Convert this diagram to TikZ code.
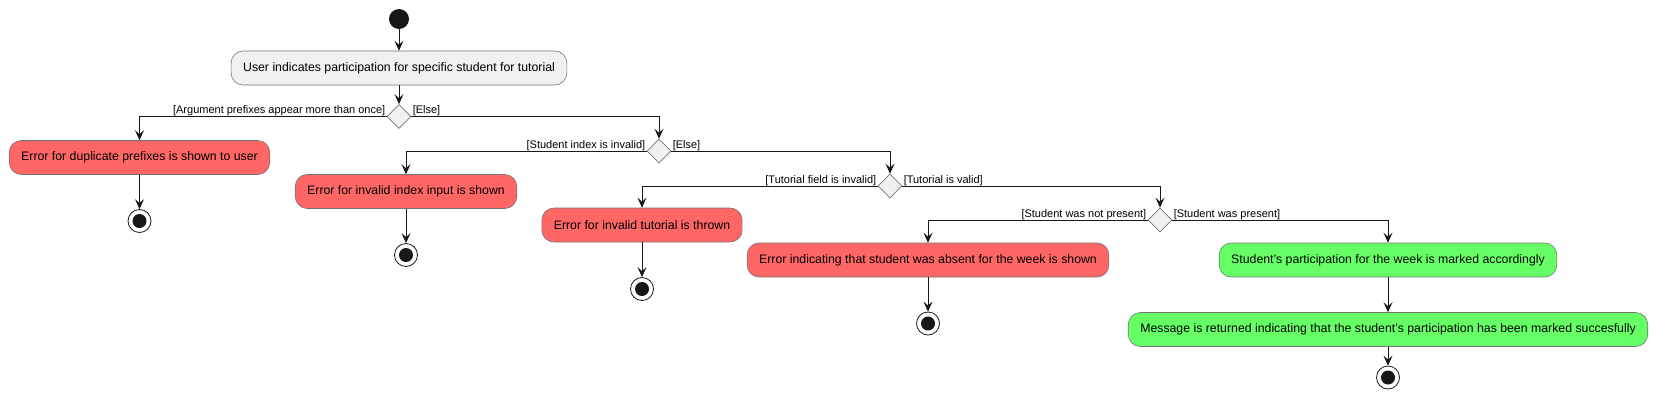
\documentclass[tikz,border=0pt]{standalone}
\usepackage{fontspec}
\setmainfont{Liberation Sans}
\usepackage{xcolor}
\usepackage{tikz}
\usetikzlibrary{shapes.geometric, arrows.meta, positioning}

\definecolor{actfill}{HTML}{F1F1F1}
\definecolor{linecol}{HTML}{181818}
\definecolor{errfill}{HTML}{FF6666}
\definecolor{okfill}{HTML}{66FF66}

\begin{document}
\begin{tikzpicture}[x=1pt, y=-1pt,
    action/.style={rectangle, rounded corners=12pt, draw=linecol!60, line width=0.6pt, minimum height=34pt, inner xsep=12pt, font=\fontsize{12.3}{14}\selectfont, fill=actfill},
    decision/.style={diamond, draw=linecol!60, fill=actfill, line width=0.6pt, minimum width=24pt, minimum height=24pt, inner sep=0pt, shape aspect=1},
    startdot/.style={circle, fill=linecol, minimum size=20pt, inner sep=0pt},
    stopdot/.style={circle, draw=linecol, fill=white, minimum size=23pt, inner sep=0pt, line width=0.8pt,
        path picture={\fill[linecol] (path picture bounding box.center) circle (7pt);}},
    guard/.style={font=\fontsize{11}{13}\selectfont, inner xsep=1pt, inner ysep=0pt},
    arrow/.style={-{Stealth[length=10pt, width=9pt, inset=4pt]}, line width=0.9pt, draw=linecol}
]
    \useasboundingbox (0,0) rectangle (1658,400);

    \node[startdot] (start) at (399,19) {};
    \node[action] (act) at (399,68) {User indicates participation for specific student for tutorial};
    \node[decision] (d1) at (399,116.5) {};

    \node[action, fill=errfill] (e1) at (139.5,157.5) {Error for duplicate prefixes is shown to user};
    \node[stopdot] (f1) at (139.5,221) {};

    \node[decision] (d2) at (659,151) {};
    \node[action, fill=errfill] (e2) at (406,191.5) {Error for invalid index input is shown};
    \node[stopdot] (f2) at (406,255) {};

    \node[decision] (d3) at (890,186) {};
    \node[action, fill=errfill] (e3) at (642,225) {Error for invalid tutorial is thrown};
    \node[stopdot] (f3) at (642,289) {};

    \node[decision] (d4) at (1160,220) {};
    \node[action, fill=errfill] (e4) at (928,260) {Error indicating that student was absent for the week is shown};
    \node[stopdot] (f4) at (928,323.5) {};

    \node[action, fill=okfill] (g1) at (1388,260) {Student's participation for the week is marked accordingly};
    \node[action, fill=okfill] (g2) at (1388,329.5) {Message is returned indicating that the student's participation has been marked succesfully};
    \node[stopdot] (f5) at (1388,377.5) {};

    \draw[arrow] (start) -- (act);
    \draw[arrow] (act) -- (d1);
    \draw[arrow] (d1.west) -| node[guard, pos=0, anchor=south east] {[Argument prefixes appear more than once]} (e1);
    \draw[arrow] (d1.east) -| node[guard, pos=0, anchor=south west] {[Else]} (d2);
    \draw[arrow] (e1) -- (f1);

    \draw[arrow] (d2.west) -| node[guard, pos=0, anchor=south east] {[Student index is invalid]} (e2);
    \draw[arrow] (d2.east) -| node[guard, pos=0, anchor=south west] {[Else]} (d3);
    \draw[arrow] (e2) -- (f2);

    \draw[arrow] (d3.west) -| node[guard, pos=0, anchor=south east] {[Tutorial field is invalid]} (e3);
    \draw[arrow] (d3.east) -| node[guard, pos=0, anchor=south west] {[Tutorial is valid]} (d4);
    \draw[arrow] (e3) -- (f3);

    \draw[arrow] (d4.west) -| node[guard, pos=0, anchor=south east] {[Student was not present]} (e4);
    \draw[arrow] (d4.east) -| node[guard, pos=0, anchor=south west] {[Student was present]} (g1);
    \draw[arrow] (e4) -- (f4);
    \draw[arrow] (g1) -- (g2);
    \draw[arrow] (g2) -- (f5);
\end{tikzpicture}
\end{document}
